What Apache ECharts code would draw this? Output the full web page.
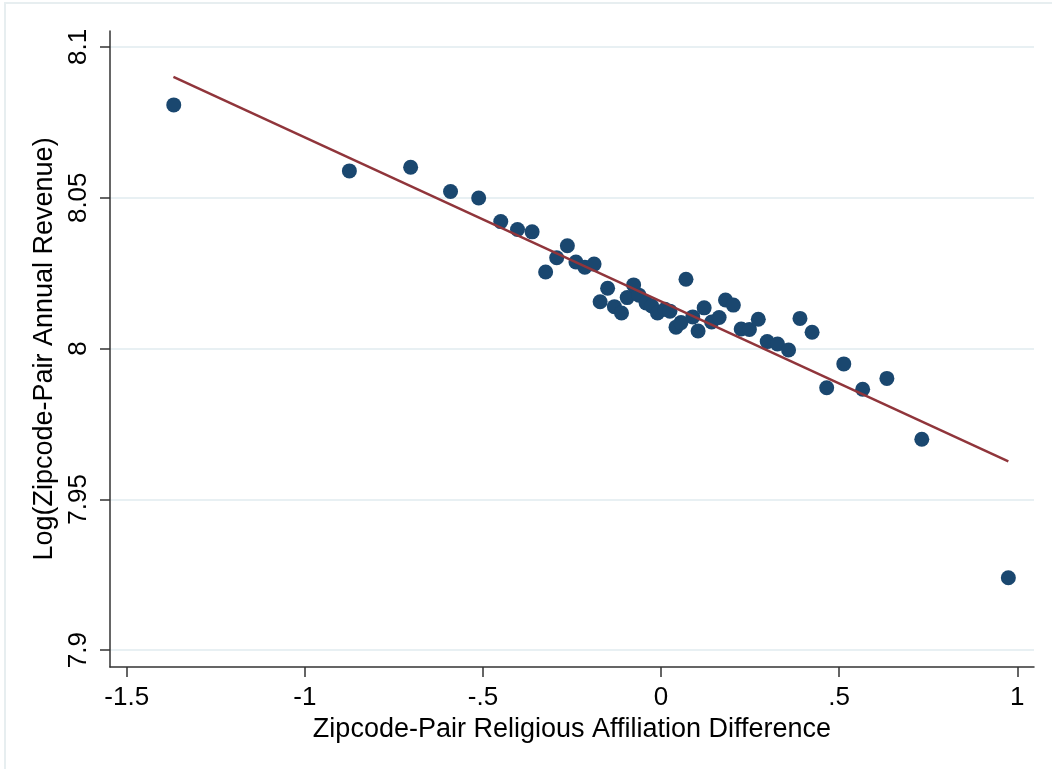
<!DOCTYPE html>
<html>
<head>
<meta charset="utf-8">
<title>Religious Affiliation Difference and Revenue</title>
<script src="https://cdn.jsdelivr.net/npm/echarts@6/dist/echarts.min.js"></script>
<style>
  html, body { margin: 0; padding: 0; background: #ffffff; }
  #chart { width: 1052px; height: 769px; }
</style>
</head>
<body>
<div id="chart"></div>
<script>
// Binned means: religious affiliation difference (x) vs log annual revenue (y)
const binX = [
  -1.368, -0.875, -0.703, -0.591, -0.512, -0.450, -0.403, -0.362, -0.324, -0.293,
  -0.263, -0.239, -0.214, -0.188, -0.171, -0.150, -0.131, -0.111, -0.095, -0.077,
  -0.062, -0.042, -0.026, -0.010, 0.011, 0.025, 0.042, 0.056, 0.070, 0.089,
  0.104, 0.121, 0.142, 0.163, 0.181, 0.203, 0.225, 0.248, 0.273, 0.298,
  0.327, 0.358, 0.390, 0.424, 0.465, 0.513, 0.566, 0.634, 0.732, 0.975
];
const binY = [
  8.0808, 8.0589, 8.0601, 8.0521, 8.0499, 8.0421, 8.0395, 8.0387, 8.0254, 8.0301,
  8.0341, 8.0287, 8.0270, 8.0280, 8.0155, 8.0200, 8.0139, 8.0118, 8.0169, 8.0211,
  8.0177, 8.0151, 8.0141, 8.0118, 8.0130, 8.0124, 8.0071, 8.0086, 8.0230, 8.0105,
  8.0058, 8.0135, 8.0088, 8.0103, 8.0161, 8.0144, 8.0065, 8.0063, 8.0097, 8.0023,
  8.0015, 7.9995, 8.0100, 8.0054, 7.9870, 7.9949, 7.9865, 7.9901, 7.9699, 7.9240
];

// Linear fit, drawn between the outermost bins
const fitX = [-1.369, 0.975];
const fitY = [8.0901, 7.9626];

// Tick positions and their printed labels
const xTicks = [-1.5, -1, -0.5, 0, 0.5, 1];
const xTickLabels = ['-1.5', '-1', '-.5', '0', '.5', '1'];
const yTicks = [7.9, 7.95, 8, 8.05, 8.1];
const yTickLabels = ['7.9', '7.95', '8', '8.05', '8.1'];

const xTitle = 'Zipcode-Pair Religious Affiliation Difference';
const yTitle = 'Log(Zipcode-Pair Annual Revenue)';

const FONT = '"Liberation Sans", Arial, sans-serif';
const AXIS_COLOR = '#333333';

function labelFor(ticks, labels) {
  return function (v) {
    for (let i = 0; i < ticks.length; i++) {
      if (Math.abs(ticks[i] - v) < 1e-9) return labels[i];
    }
    return '';
  };
}

const chart = echarts.init(document.getElementById('chart'), null, { renderer: 'canvas' });

const option = {
  backgroundColor: '#ffffff',
  animation: false,
  graphic: [{
    type: 'rect',
    silent: true,
    z: -10,
    shape: { x: 5, y: 3, width: 1200, height: 900 },
    style: { fill: 'none', stroke: '#e7eef0', lineWidth: 2 }
  }],
  grid: { left: 110, top: 31, right: 18, bottom: 102, containLabel: false },
  xAxis: {
    type: 'value',
    min: -1.547,
    max: 1.047,
    name: xTitle,
    nameLocation: 'middle',
    nameGap: 42,
    nameTextStyle: { fontFamily: FONT, fontSize: 27, color: '#000000' },
    axisLine: { show: true, onZero: false, lineStyle: { color: AXIS_COLOR, width: 1.5 } },
    axisTick: { show: true, inside: false, length: 10, customValues: xTicks, lineStyle: { color: AXIS_COLOR, width: 1.5 } },
    axisLabel: {
      customValues: xTicks,
      formatter: labelFor(xTicks, xTickLabels),
      margin: 18,
      fontFamily: FONT, fontSize: 26, color: '#000000'
    },
    splitLine: { show: false }
  },
  yAxis: {
    type: 'value',
    min: 7.8944,
    max: 8.1053,
    name: yTitle,
    nameLocation: 'middle',
    nameGap: 49,
    nameRotate: 90,
    nameTextStyle: { fontFamily: FONT, fontSize: 27, color: '#000000' },
    axisLine: { show: true, onZero: false, lineStyle: { color: AXIS_COLOR, width: 1.5 } },
    axisTick: { show: true, inside: false, length: 10, customValues: yTicks, lineStyle: { color: AXIS_COLOR, width: 1.5 } },
    axisLabel: {
      customValues: yTicks,
      formatter: labelFor(yTicks, yTickLabels),
      rotate: 90,
      margin: 18,
      fontFamily: FONT, fontSize: 26, color: '#000000'
    },
    splitLine: { show: true, lineStyle: { color: '#e8f0f3', width: 2 } }
  },
  series: [
    {
      name: 'Bins',
      type: 'scatter',
      symbol: 'circle',
      symbolSize: 15,
      itemStyle: { color: '#1a476f', opacity: 1 },
      data: binX.map((x, i) => [x, binY[i]]),
      z: 2
    },
    {
      name: 'Fit',
      type: 'line',
      showSymbol: false,
      symbol: 'none',
      lineStyle: { color: '#90353b', width: 2.5 },
      data: fitX.map((x, i) => [x, fitY[i]]),
      z: 3
    }
  ]
};

chart.setOption(option);
</script>
</body>
</html>
